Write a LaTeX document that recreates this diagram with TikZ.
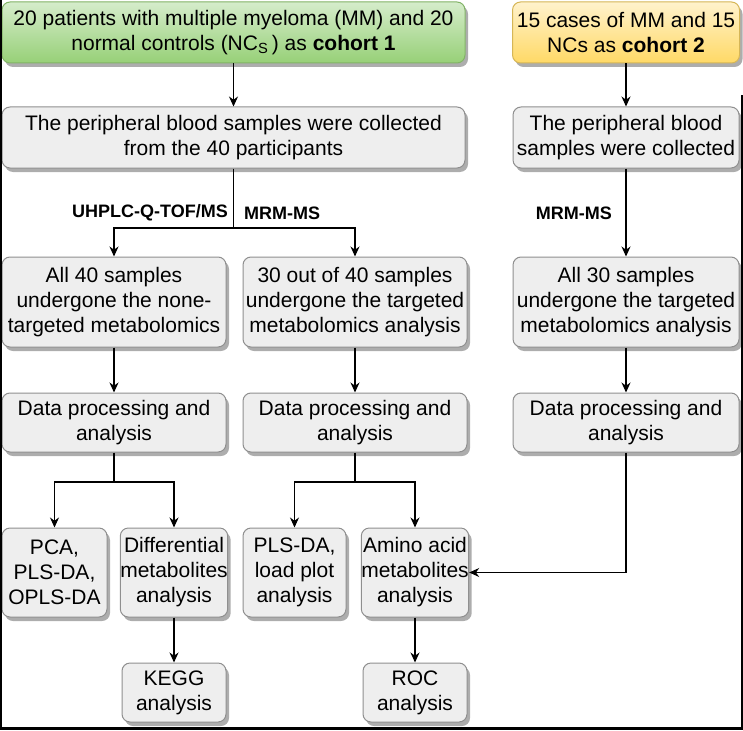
\documentclass[tikz,border=0pt]{standalone}
\usepackage{fontspec}
\setmainfont{Liberation Sans}
\usetikzlibrary{arrows.meta,shadows}

\definecolor{boxfill}{HTML}{EEEEEE}
\definecolor{boxline}{HTML}{8F8F8F}
\definecolor{greentop}{HTML}{D5ECCB}
\definecolor{greenbot}{HTML}{97D077}
\definecolor{greenline}{HTML}{82B366}
\definecolor{yellowtop}{HTML}{FFF2CC}
\definecolor{yellowbot}{HTML}{FFD966}
\definecolor{yellowline}{HTML}{D6B656}

\tikzset{
	stage/.style={draw=boxline, fill=boxfill, rounded corners=8pt, line width=1pt, align=center, inner sep=0pt,
		font=\fontsize{21}{25}\selectfont,
		drop shadow={shadow xshift=3pt, shadow yshift=-4pt, fill=black!32, opacity=1}},
	cohortA/.style={stage, draw=greenline, top color=greentop, bottom color=greenbot},
	cohortB/.style={stage, draw=yellowline, top color=yellowtop, bottom color=yellowbot},
	flow/.style={->, line width=1.1pt},
	method/.style={font=\bfseries\fontsize{18}{21}\selectfont, inner sep=0pt}
}

\begin{document}
\begin{tikzpicture}[x=1pt,y=-1pt,>={Stealth[length=10pt,width=9pt]}]
	\useasboundingbox (0,0) rectangle (743,730);
	
	%COHORTS
	\node[cohortA, minimum width=463pt, minimum height=61pt] (coh1) at (233.5,32.5) {20 patients with multiple myeloma (MM) and 20 \\ normal controls (NC\textsubscript{S}\,) as \textbf{cohort 1}};
	\node[cohortB, minimum width=227pt, minimum height=61pt] (coh2) at (626,32.5) {15 cases of MM and 15 \\ NCs as \textbf{cohort 2}};
	
	%BLOOD SAMPLES
	\node[stage, minimum width=463pt, minimum height=61pt] (blood1) at (233.5,137.5) {The peripheral blood samples were collected \\ from the 40 participants};
	\node[stage, minimum width=226pt, minimum height=61pt] (blood2) at (626,137.5) {The peripheral blood \\ samples were collected};
	\draw[flow] (coh1) -- (blood1);
	\draw[flow] (coh2) -- (blood2);
	
	%METABOLOMICS
	\node[stage, minimum width=224pt, minimum height=90pt] (untarget) at (114,302) {All 40 samples \\ undergone the none- \\ targeted metabolomics};
	\node[stage, minimum width=224pt, minimum height=90pt] (target1) at (355,302) {30 out of 40 samples \\ undergone the targeted \\ metabolomics analysis};
	\node[stage, minimum width=226pt, minimum height=90pt] (target2) at (626,302) {All 30 samples \\ undergone the targeted \\ metabolomics analysis};
	%
	\coordinate (split1) at (233.5,228);
	\draw[line width=1.1pt] (blood1) -- (split1);
	\draw[flow] (split1) -| (untarget);
	\draw[flow] (split1) -| (target1);
	\draw[flow] (blood2) -- (target2);
	%
	\node[method, anchor=east] (uhplc) at (228,213) {UHPLC-Q-TOF/MS};
	\node[method, anchor=west] (mrm1) at (244,213) {MRM-MS};
	\node[method, anchor=east] (mrm2) at (612,213) {MRM-MS};
	
	%DATA PROCESSING
	\node[stage, minimum width=224pt, minimum height=59pt] (proc1) at (114,422.5) {Data processing and \\ analysis};
	\node[stage, minimum width=224pt, minimum height=59pt] (proc2) at (355,422.5) {Data processing and \\ analysis};
	\node[stage, minimum width=226pt, minimum height=59pt] (proc3) at (626,422.5) {Data processing and \\ analysis};
	\draw[flow] (untarget) -- (proc1);
	\draw[flow] (target1) -- (proc2);
	\draw[flow] (target2) -- (proc3);
	
	%ANALYSES
	\node[stage, minimum width=105pt, minimum height=89pt] (pca) at (54.5,572.5) {PCA, \\ PLS-DA, \\ OPLS-DA};
	\node[stage, minimum width=104pt, minimum height=89pt] (diff) at (174,572.5) {Differential \\ metabolites \\ analysis};
	\node[stage, minimum width=103pt, minimum height=89pt] (plsda) at (294.5,572.5) {PLS-DA, \\ load plot \\ analysis};
	\node[stage, minimum width=104pt, minimum height=89pt] (amino) at (415,572.5) {Amino acid \\ metabolites \\ analysis};
	%
	\coordinate (split2) at (114,482);
	\draw[line width=1.1pt] (proc1) -- (split2);
	\draw[flow] (split2) -| (pca);
	\draw[flow] (split2) -| (diff);
	\coordinate (split3) at (355,482);
	\draw[line width=1.1pt] (proc2) -- (split3);
	\draw[flow] (split3) -| (plsda);
	\draw[flow] (split3) -| (amino);
	\draw[flow] (proc3) |- (amino);
	
	%BOTTOM ROW
	\node[stage, minimum width=104pt, minimum height=59pt] (kegg) at (174,692.5) {KEGG \\ analysis};
	\node[stage, minimum width=104pt, minimum height=59pt] (roc) at (415,692.5) {ROC \\ analysis};
	\draw[flow] (diff) -- (kegg);
	\draw[flow] (amino) -- (roc);
	
	%FRAME
	\draw[line width=2.5pt] (1,0) -- (1,728.5) -- (742,728.5) -- (742,95);
\end{tikzpicture}
\end{document}
